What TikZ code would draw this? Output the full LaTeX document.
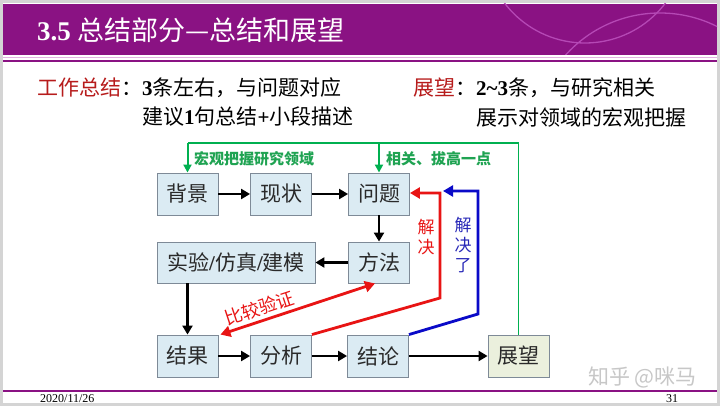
\documentclass[tikz,border=0pt]{standalone}
\usepackage{fontspec}
\setmainfont{Liberation Serif}
\newfontfamily\cjk{Noto Sans CJK SC}
\usetikzlibrary{arrows.meta}
\definecolor{ppl}{HTML}{8A1283}
\definecolor{arcc}{HTML}{B548B5}
\definecolor{pinkline}{HTML}{E2B4E0}
\definecolor{boxfill}{HTML}{DBEBF3}
\definecolor{boxline}{HTML}{7E8A97}
\definecolor{beige}{HTML}{EBF0DD}
\definecolor{grn}{HTML}{00B050}
\definecolor{glabc}{HTML}{1FA352}
\definecolor{rd}{HTML}{E81414}
\definecolor{bl}{HTML}{0A0AC8}
\definecolor{blab}{HTML}{2828B8}
\definecolor{drd}{HTML}{B71C1C}
\definecolor{txt}{HTML}{2A2A2A}
\definecolor{framec}{HTML}{D4D4D4}
\newcommand\myfs[2]{\fontsize{#1}{#2}\selectfont}
\begin{document}
\begin{tikzpicture}[x=1pt,y=-1pt,
  box/.style={draw=boxline, line width=0.9pt, fill=boxfill, minimum width=61pt,
    minimum height=42pt, inner sep=0pt, font=\cjk\myfs{21}{25}, text=txt},
  blk/.style={draw=black, line width=2.6pt, -{Triangle[length=9pt,width=10pt]}},
  gline/.style={draw=grn, line width=1.1pt},
  garr/.style={draw=grn, line width=2pt, -{Triangle[length=8pt,width=8pt]}},
  glab/.style={font=\cjk\bfseries\myfs{15}{18}, text=glabc, inner sep=0pt, anchor=west},
  rline/.style={draw=rd, line width=2.8pt, -{Triangle[length=10pt,width=11pt]}},
  bline/.style={draw=bl, line width=2.8pt, -{Triangle[length=10pt,width=11pt]}},
  body/.style={anchor=west, inner sep=0pt, font=\myfs{21}{25}, text=black}
]
\useasboundingbox (0,0) rectangle (720,406);
\fill[white] (0,0) rectangle (720,406);
\draw[framec, line width=3pt] (1.5,1.5) rectangle (718.5,404.5);
% title bar
\fill[ppl] (3,4) rectangle (717,55);
\begin{scope}
  \clip (3,4) rectangle (717,55);
  \draw[arcc, line width=1.3pt] (585,-58) circle[radius=101pt];
  \draw[arcc, line width=1.3pt] (660,140) circle[radius=127pt];
\end{scope}
\draw[pinkline, line width=1pt] (3,57.3) -- (717,57.3);
\fill[ppl] (3,59.8) rectangle (717,62.2);
\node[anchor=west, text=white, inner sep=0pt] (title) at (37,30)
  {{\bfseries\myfs{27}{30}3.5 }{\cjk\myfs{27}{30}总结部分—总结和展望}};
% body text
\node[body] (l1) at (37,88) {{\cjk\color{drd}工作总结}{\cjk ：}{\bfseries 3}{\cjk 条左右，与问题对应}};
\node[body] (l2) at (142,117) {{\cjk 建议}{\bfseries 1}{\cjk 句总结}{\bfseries +}{\cjk 小段描述}};
\node[body] (r1) at (413,88) {{\cjk\color{drd}展望}{\cjk ：}{\bfseries 2\textasciitilde 3}{\cjk 条，与研究相关}};
\node[body] (r2) at (476,117) {{\cjk 展示对领域的宏观把握}};
% boxes
\node[box] (bj) at (187.5,194) {背景};
\node[box] (xz) at (281,194) {现状};
\node[box] (wt) at (379,194) {问题};
\node[box, minimum width=158pt, minimum height=41pt] (sy) at (236,262.5)
  {实验{\rmfamily\bfseries /}仿真{\rmfamily\bfseries /}建模};
\node[box, minimum height=41pt] (ff) at (379,262.5) {方法};
\node[box] (jg) at (187.5,356) {结果};
\node[box] (fx) at (281,356) {分析};
\node[box] (jl) at (378,356) {结论};
\node[box, fill=beige] (zw) at (518.5,356) {展望};
% black arrows
\draw[blk] (bj) -- (xz);
\draw[blk] (xz) -- (wt);
\draw[blk] (wt) -- (ff);
\draw[blk] (ff) -- (sy);
\draw[blk] (sy.south -| jg) -- (jg.north);
\draw[blk] (jg) -- (fx);
\draw[blk] (fx) -- (jl);
\draw[blk] (jl) -- (zw);
% green feedback
\coordinate (gtop) at (0,143);
\draw[gline] (zw.north) |- (bj.north |- gtop);
\draw[garr] (bj.north |- gtop) -- (bj.north);
\draw[garr] (wt.north |- gtop) -- (wt.north);
\node[glab] (g1) at (194,159) {宏观把握研究领域};
\node[glab] (g2) at (386,159) {相关、拔高一点};
% red and blue
\coordinate (rk) at (440,298);
\coordinate (rt) at (0,193);
\draw[rline] (fx.north east) -- (rk) |- (wt.east |- rt);
\coordinate (bk) at (478,314);
\coordinate (bt) at (443,191);
\draw[bline] (jl.north east) -- (bk) |- (bt);
\node[font=\cjk\myfs{17}{20}, text=rd, align=center, inner sep=0pt] (rlab) at (426,237) {解\\决};
\node[font=\cjk\myfs{17}{20}, text=blab, align=center, inner sep=0pt] (blb) at (463,245) {解\\决\\了};
\draw[draw=rd, line width=2.8pt, {Triangle[length=10pt,width=11pt]}-{Triangle[length=10pt,width=11pt]}]
  ([xshift=2pt]jg.north east) -- ([xshift=-4pt]ff.south)
  node[pos=0.28, sloped, above=3pt, font=\cjk\myfs{18}{20}, text=rd, inner sep=0pt] (cmp) {比较验证};
% footer
\draw[ppl, line width=1.5pt] (3,391) -- (717,391);
\node[anchor=west, font=\myfs{12}{13}, inner sep=0pt] (date) at (40,398.5) {2020/11/26};
\node[font=\myfs{12}{13}, inner sep=0pt] (pg) at (672,398.5) {31};
\node[anchor=west, font=\cjk\myfs{21}{24}, text=black!22, inner sep=0pt] (wm) at (588,377) {知乎 @咪马};
\end{tikzpicture}
\end{document}
